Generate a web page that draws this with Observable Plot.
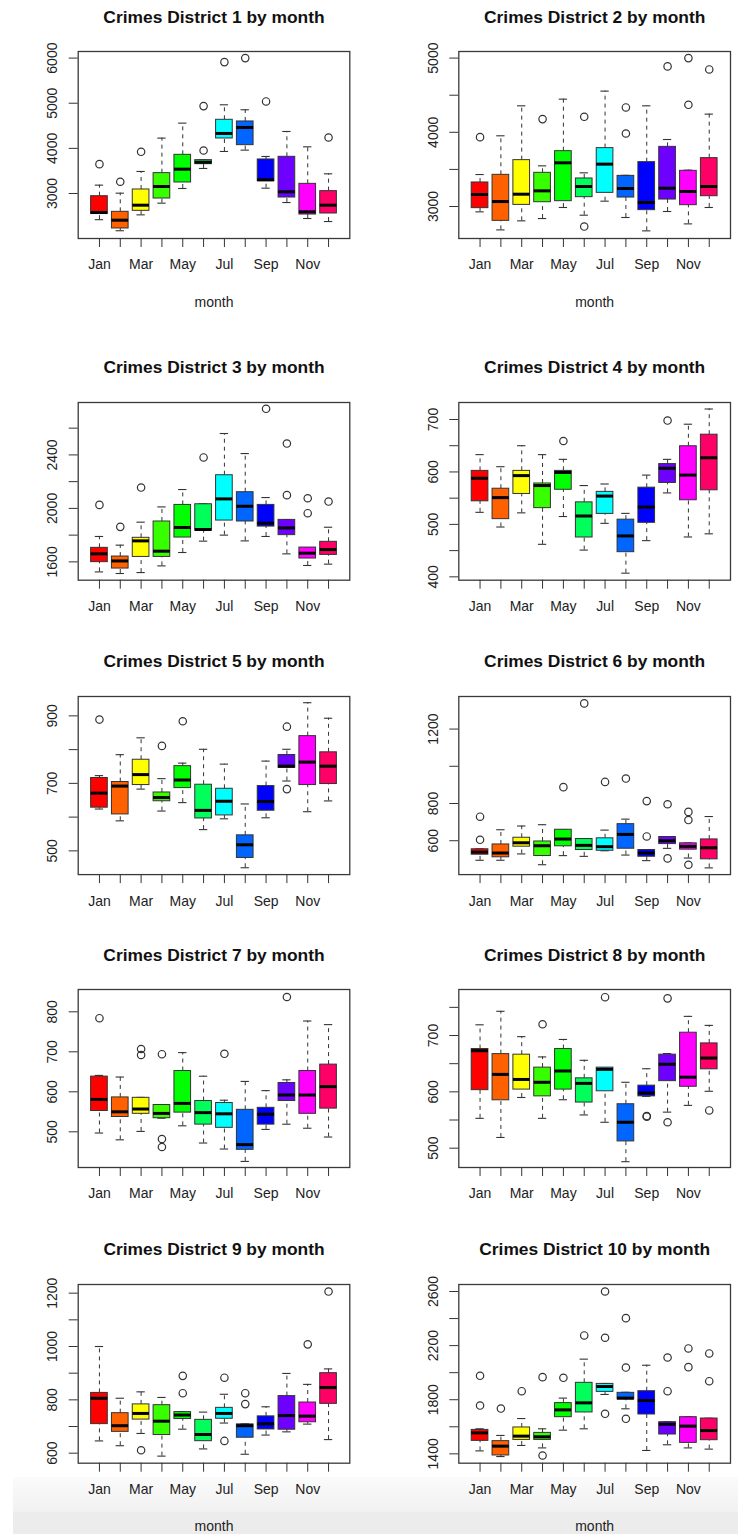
<!DOCTYPE html>
<html>
<head>
<meta charset="utf-8">
<script src="https://cdn.jsdelivr.net/npm/d3@7"></script>
<script src="https://cdn.jsdelivr.net/npm/@observablehq/plot@0.6"></script>
<style>
  html, body { margin: 0; padding: 0; background: #fff; }
  #page { position: relative; width: 738px; height: 1534px; overflow: hidden; background: #fff; }
  .band1 { position: absolute; left: 13px; top: 1477px; width: 725px; height: 35px;
           background: linear-gradient(#fbfbfb, #f1f1f1); }
  .band2 { position: absolute; left: 13px; top: 1512px; width: 725px; height: 22px; background: #ececec; }
  .panel { position: absolute; }
</style>
</head>
<body>
<div id="page">
  <div class="band1"></div>
  <div class="band2"></div>
</div>
<script>
// ---------- data ----------
const months = ["Jan","Feb","Mar","Apr","May","Jun","Jul","Aug","Sep","Oct","Nov","Dec"];
const monthTickLabels = ["Jan","","Mar","","May","","Jul","","Sep","","Nov",""];
const boxColors = ["#FF0000","#FF6000","#FFFF00","#38FF00","#00FF00","#00FF5A","#00FFFF","#0066FF","#0000FF","#6E00FF","#FF00FF","#FF0066"];
const titles = [
  "Crimes District 1 by month","Crimes District 2 by month","Crimes District 3 by month",
  "Crimes District 4 by month","Crimes District 5 by month","Crimes District 6 by month",
  "Crimes District 7 by month","Crimes District 8 by month","Crimes District 9 by month",
  "Crimes District 10 by month"
];

const whiskerLow = [
  [2420,2175,2527,2786,3111,3555,3931,3961,3118,2800,2446,2379],
  [2928,2685,2807,2838,2987,2883,3072,2852,2672,2933,2766,2987],
  [1525,1513,1520,1570,1670,1755,1800,1757,1790,1660,1573,1583],
  [523,495,522,462,515,451,502,407,469,560,476,482],
  [624,589,683,618,643,563,595,450,598,707,616,648],
  [495,495,529,471,520,516,546,523,493,559,507,454],
  [497,480,501,534,515,472,457,426,506,519,509,487],
  [553,519,590,553,586,559,546,476,592,564,576,601],
  [646,628,674,589,690,616,713,596,668,680,709,651],
  [1422,1380,1462,1444,1575,1585,1839,1733,1425,1467,1444,1435]
];
const quartile1 = [
  [2545,2225,2616,2889,3244,3650,4219,4071,3273,2911,2534,2557],
  [2978,2807,3022,3058,3072,3126,3184,3121,2951,3094,3018,3139],
  [1598,1550,1637,1637,1782,1834,1909,1902,1864,1800,1625,1652],
  [544,510,558,531,566,475,520,447,503,579,546,565],
  [628,608,695,647,686,596,605,479,619,746,695,698],
  [525,511,568,518,570,550,546,557,514,582,552,500],
  [552,537,545,534,548,518,510,455,518,577,545,558],
  [603,585,604,592,604,581,601,512,592,619,609,640],
  [709,680,726,668,728,645,729,658,689,688,716,785],
  [1496,1388,1503,1503,1671,1706,1858,1802,1691,1543,1481,1501]
];
const medians = [
  [2580,2409,2741,3155,3539,3694,4330,4463,3303,3037,2594,2741],
  [3162,3067,3166,3211,3589,3270,3571,3243,3054,3247,3202,3270],
  [1660,1607,1757,1680,1857,1842,2071,2016,1889,1854,1665,1692],
  [588,551,593,574,599,516,554,478,533,607,594,627],
  [671,692,726,658,710,620,647,518,646,751,763,751],
  [539,534,589,573,609,575,568,634,534,600,570,562],
  [581,550,557,546,571,548,545,468,544,592,592,613],
  [673,631,622,617,637,615,640,546,598,649,626,660],
  [806,703,749,720,743,670,749,703,710,741,739,846],
  [1555,1457,1531,1526,1725,1777,1898,1812,1794,1619,1605,1572]
];
const quartile3 = [
  [2940,2594,3089,3451,3857,3739,4633,4596,3754,3813,3214,3052],
  [3324,3427,3625,3454,3746,3378,3787,3413,3598,3804,3481,3652],
  [1705,1640,1780,1902,2026,2031,2248,2121,2026,1914,1707,1750],
  [602,568,602,578,602,542,562,509,570,615,649,671],
  [716,704,770,673,751,696,684,546,692,784,840,792],
  [554,580,616,596,659,609,613,689,550,620,586,607],
  [638,586,585,567,652,577,572,555,560,622,652,668],
  [676,667,666,643,676,624,643,578,611,666,705,686],
  [826,750,783,780,754,725,770,708,738,814,790,900],
  [1577,1494,1595,1555,1775,1925,1917,1851,1863,1634,1671,1661]
];
const whiskerHigh = [
  [3185,3007,3488,4227,4559,3745,4965,4855,3820,4374,4034,3436],
  [3431,3953,4357,3548,4447,3454,4555,3420,4357,3903,3490,4245],
  [1790,1725,1897,2011,2141,2034,2560,2410,2081,1915,1707,1859],
  [633,610,650,633,624,574,577,521,594,624,691,720],
  [723,785,835,714,760,801,757,639,766,801,939,893],
  [556,659,679,686,659,611,657,716,552,620,588,730],
  [641,637,586,568,698,639,579,626,603,630,777,768],
  [719,743,698,662,693,656,643,617,641,668,734,718],
  [1000,806,830,809,756,754,821,710,774,899,858,916],
  [1585,1536,1661,1585,1812,2100,1920,1855,2055,1636,1673,1663]
];
const outliers = [
  [[3650],[3260],[3924],[],[],[4936,3953],[5911],[6000],[5039],[],[],[4241]],
  [[3935],[],[],[4178],[],[4209,2730],[],[4335,3984],[],[4888],[5000,4371],[4847]],
  [[2026],[1862],[2156],[],[],[2381],[],[],[2745],[2485,2099],[2076,1964],[2051]],
  [[],[],[],[],[659],[],[],[],[],[698],[],[]],
  [[889],[],[],[811],[884],[],[],[],[],[868,683],[],[]],
  [[729,605],[],[],[],[888],[1338],[916],[934],[813,623],[796,505],[755,711,471],[]],
  [[784],[],[707,692],[694,482,462],[],[],[695],[],[],[837],[],[]],
  [[],[],[],[720],[],[],[768],[],[557,556],[766,546],[],[567]],
  [[],[],[611],[],[890,825],[],[883,646],[825,784],[],[],[1008],[1206]],
  [[1977,1757],[1735],[1863],[1967,1388],[1962],[2275],[2600,2258,1696],[2403,2038,1659],[],[2112,1863],[2179,2041],[2142,1937]]
];

const yTicks = [
  [3000,4000,5000,6000],
  [3000,3500,4000,4500,5000],
  [1600,1800,2000,2200,2400,2600],
  [400,450,500,550,600,650,700],
  [500,600,700,800,900],
  [600,800,1000,1200],
  [500,600,700,800],
  [500,550,600,650,700,750],
  [600,700,800,900,1000,1100,1200],
  [1400,1600,1800,2000,2200,2400,2600]
];
const yTickLabels = [
  [3000,4000,5000,6000],
  [3000,4000,5000],
  [1600,2000,2400],
  [400,500,600,700],
  [500,700,900],
  [600,800,1200],
  [500,600,700,800],
  [500,600,700],
  [600,800,1000,1200],
  [1400,1800,2200,2600]
];
const yDomains = [
  [2003,6146],[2569,5089],[1463,2792],[393.6,732.4],[429.7,957.4],
  [418,1375],[410.8,855.8],[465.7,781.7],[562.5,1232.5],[1331,2651.7]
];

// ---------- layout ----------
const frameTop = [50.7, 402.3, 696.2, 989.3, 1284];
const frameBottom = [237.7, 580, 874.3, 1167.3, 1462.7];
const FONT = "'Liberation Sans', Arial, Helvetica, sans-serif";

const page = document.getElementById("page");

for (let i = 0; i < 10; i++) {
  const row = Math.floor(i / 2), col = i % 2;
  const ft = frameTop[row], fb = frameBottom[row];
  const mt = 40, mb = row === 4 ? 72 : 75;
  const ml = col ? 89.3 : 77.7, mr = col ? 8 : 19.7;
  const boxes = months.map((m, j) => ({
    m: j + 1, lo: whiskerLow[i][j], q1: quartile1[i][j], med: medians[i][j],
    q3: quartile3[i][j], hi: whiskerHigh[i][j], color: boxColors[j]
  }));
  const outs = outliers[i].flatMap((vals, j) => vals.map(v => ({m: j + 1, v})));
  const marks = [
    Plot.ruleX(boxes, {x: "m", y1: "q3", y2: "hi", stroke: "#333", strokeWidth: 1, strokeDasharray: "4,4"}),
    Plot.ruleX(boxes, {x: "m", y1: "lo", y2: "q1", stroke: "#333", strokeWidth: 1, strokeDasharray: "4,4"}),
    Plot.ruleY(boxes, {y: "hi", x1: d => d.m - 0.2, x2: d => d.m + 0.2, stroke: "#333", strokeWidth: 1.1}),
    Plot.ruleY(boxes, {y: "lo", x1: d => d.m - 0.2, x2: d => d.m + 0.2, stroke: "#333", strokeWidth: 1.1}),
    Plot.rect(boxes, {x1: d => d.m - 0.4, x2: d => d.m + 0.4, y1: "q1", y2: "q3", fill: "color", stroke: "#333", strokeWidth: 1}),
    Plot.ruleY(boxes, {y: "med", x1: d => d.m - 0.4, x2: d => d.m + 0.4, stroke: "#000", strokeWidth: 3}),
    Plot.dot(outs, {x: "m", y: "v", r: 3.7, stroke: "#333", strokeWidth: 1.2, fill: "none"}),
    Plot.frame({stroke: "#3a3a3a", strokeWidth: 1.3}),
    Plot.axisX({ticks: months.map((m, j) => j + 1), tickSize: 9, tickPadding: 12,
      tickFormat: d => monthTickLabels[d - 1], fontSize: 14, stroke: "#333", fill: "#222", label: null}),
    Plot.axisY({ticks: yTicks[i], tickSize: 9, tickFormat: () => "", stroke: "#333", label: null}),
    Plot.text(yTickLabels[i], {y: d => d, text: d => String(d), frameAnchor: "left", dx: -21, rotate: -90,
      textAnchor: "middle", lineAnchor: "bottom", fontSize: 14, fill: "#222"}),
    Plot.text([titles[i]], {frameAnchor: "top", dy: -29, lineAnchor: "bottom", fontSize: 17.4,
      fontWeight: "bold", fill: "#111"})
  ];
  if (row === 0 || row === 4) {
    marks.push(Plot.text(["month"], {frameAnchor: "bottom", dy: 68, lineAnchor: "bottom", fontSize: 14, fill: "#222"}));
  }
  const svg = Plot.plot({
    width: 369,
    height: mt + (fb - ft) + mb,
    marginTop: mt, marginBottom: mb, marginLeft: ml, marginRight: mr,
    style: {background: "transparent", fontFamily: FONT, fontSize: "14px", color: "#222", overflow: "visible"},
    x: {type: "linear", domain: [-0.02, 13.02], label: null},
    y: {type: "linear", domain: yDomains[i], label: null},
    color: {type: "identity"},
    marks
  });
  const wrap = document.createElement("div");
  wrap.className = "panel";
  wrap.style.left = (col * 369) + "px";
  wrap.style.top = (ft - mt) + "px";
  wrap.appendChild(svg);
  page.appendChild(wrap);
}
</script>
</body>
</html>
